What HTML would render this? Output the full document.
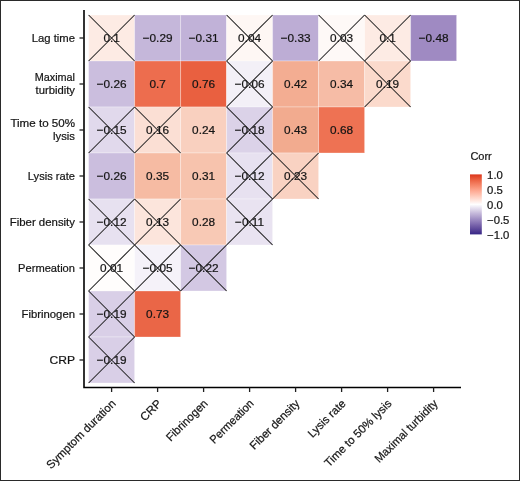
<!DOCTYPE html>
<html><head><meta charset="utf-8"><style>
html,body{margin:0;padding:0;background:#fff;}
.wrap{position:relative;width:520px;height:481px;overflow:hidden;background:#fff;}
.frame{position:absolute;left:0;top:0;width:518px;height:479px;border:1px solid #2a2a2a;}
svg{position:absolute;left:0;top:0;will-change:transform;}
text{font-family:"Liberation Sans",sans-serif;fill:#151515;stroke:#151515;stroke-width:0.22px;}
.n{font-size:11.8px;text-anchor:middle;}
.x{stroke:#1e1e1e;stroke-width:1.05;fill:none;}
.yl{font-size:11.3px;text-anchor:end;}
.xl{font-size:11.5px;text-anchor:end;}
.lt{font-size:11px;}
.lg{font-size:11.3px;}
</style></head><body><div class="wrap"><svg width="520" height="481" viewBox="0 0 520 481"><defs><linearGradient id="g" x1="0" y1="0" x2="0" y2="1"><stop offset="0.0000" stop-color="#dc3419"/><stop offset="0.0250" stop-color="#e04225"/><stop offset="0.0500" stop-color="#e44e30"/><stop offset="0.0750" stop-color="#e85a3b"/><stop offset="0.1000" stop-color="#ec6545"/><stop offset="0.1250" stop-color="#ef6f50"/><stop offset="0.1500" stop-color="#f2795b"/><stop offset="0.1750" stop-color="#f58366"/><stop offset="0.2000" stop-color="#f78d71"/><stop offset="0.2250" stop-color="#fa977c"/><stop offset="0.2500" stop-color="#fca088"/><stop offset="0.2750" stop-color="#feaa93"/><stop offset="0.3000" stop-color="#ffb39f"/><stop offset="0.3250" stop-color="#ffbdaa"/><stop offset="0.3500" stop-color="#ffc6b6"/><stop offset="0.3750" stop-color="#ffd0c2"/><stop offset="0.4000" stop-color="#ffd9ce"/><stop offset="0.4250" stop-color="#ffe3da"/><stop offset="0.4500" stop-color="#ffece6"/><stop offset="0.4750" stop-color="#fff5f3"/><stop offset="0.5000" stop-color="#ffffff"/><stop offset="0.5250" stop-color="#f5f3f9"/><stop offset="0.5500" stop-color="#ebe7f3"/><stop offset="0.5750" stop-color="#e2dbed"/><stop offset="0.6000" stop-color="#d8d0e6"/><stop offset="0.6250" stop-color="#cec4e0"/><stop offset="0.6500" stop-color="#c4b8da"/><stop offset="0.6750" stop-color="#bbadd4"/><stop offset="0.7000" stop-color="#b1a2ce"/><stop offset="0.7250" stop-color="#a797c8"/><stop offset="0.7500" stop-color="#9d8cc2"/><stop offset="0.7750" stop-color="#9481bc"/><stop offset="0.8000" stop-color="#8a76b6"/><stop offset="0.8250" stop-color="#806cb0"/><stop offset="0.8500" stop-color="#7661a9"/><stop offset="0.8750" stop-color="#6c57a3"/><stop offset="0.9000" stop-color="#624d9d"/><stop offset="0.9250" stop-color="#574397"/><stop offset="0.9500" stop-color="#4d3991"/><stop offset="0.9750" stop-color="#412f8b"/><stop offset="1.0000" stop-color="#352585"/></linearGradient></defs>
<rect x="88.60" y="15.00" width="46.0" height="46.0" fill="#fdebe4" stroke="#fff" stroke-width="1" stroke-opacity="0.3"/>
<rect x="134.60" y="15.00" width="46.0" height="46.0" fill="#c5b7da" stroke="#fff" stroke-width="1" stroke-opacity="0.3"/>
<rect x="180.60" y="15.00" width="46.0" height="46.0" fill="#c1b2d8" stroke="#fff" stroke-width="1" stroke-opacity="0.3"/>
<rect x="226.60" y="15.00" width="46.0" height="46.0" fill="#fef7f4" stroke="#fff" stroke-width="1" stroke-opacity="0.3"/>
<rect x="272.60" y="15.00" width="46.0" height="46.0" fill="#bdadd5" stroke="#fff" stroke-width="1" stroke-opacity="0.3"/>
<rect x="318.60" y="15.00" width="46.0" height="46.0" fill="#fef9f7" stroke="#fff" stroke-width="1" stroke-opacity="0.3"/>
<rect x="364.60" y="15.00" width="46.0" height="46.0" fill="#fdebe4" stroke="#fff" stroke-width="1" stroke-opacity="0.3"/>
<rect x="410.60" y="15.00" width="46.0" height="46.0" fill="#9f8ac2" stroke="#fff" stroke-width="1" stroke-opacity="0.3"/>
<rect x="88.60" y="61.00" width="46.0" height="46.0" fill="#cbbede" stroke="#fff" stroke-width="1" stroke-opacity="0.3"/>
<rect x="134.60" y="61.00" width="46.0" height="46.0" fill="#ed6d4e" stroke="#fff" stroke-width="1" stroke-opacity="0.3"/>
<rect x="180.60" y="61.00" width="46.0" height="46.0" fill="#e96040" stroke="#fff" stroke-width="1" stroke-opacity="0.3"/>
<rect x="226.60" y="61.00" width="46.0" height="46.0" fill="#f3f0f7" stroke="#fff" stroke-width="1" stroke-opacity="0.3"/>
<rect x="272.60" y="61.00" width="46.0" height="46.0" fill="#f3ad92" stroke="#fff" stroke-width="1" stroke-opacity="0.3"/>
<rect x="318.60" y="61.00" width="46.0" height="46.0" fill="#f6bca6" stroke="#fff" stroke-width="1" stroke-opacity="0.3"/>
<rect x="364.60" y="61.00" width="46.0" height="46.0" fill="#fbdacc" stroke="#fff" stroke-width="1" stroke-opacity="0.3"/>
<rect x="88.60" y="107.00" width="46.0" height="46.0" fill="#e1d9ec" stroke="#fff" stroke-width="1" stroke-opacity="0.3"/>
<rect x="134.60" y="107.00" width="46.0" height="46.0" fill="#fbdfd4" stroke="#fff" stroke-width="1" stroke-opacity="0.3"/>
<rect x="180.60" y="107.00" width="46.0" height="46.0" fill="#f9d0bf" stroke="#fff" stroke-width="1" stroke-opacity="0.3"/>
<rect x="226.60" y="107.00" width="46.0" height="46.0" fill="#dbd2e8" stroke="#fff" stroke-width="1" stroke-opacity="0.3"/>
<rect x="272.60" y="107.00" width="46.0" height="46.0" fill="#f2ab8f" stroke="#fff" stroke-width="1" stroke-opacity="0.3"/>
<rect x="318.60" y="107.00" width="46.0" height="46.0" fill="#ee7253" stroke="#fff" stroke-width="1" stroke-opacity="0.3"/>
<rect x="88.60" y="153.00" width="46.0" height="46.0" fill="#cbbede" stroke="#fff" stroke-width="1" stroke-opacity="0.3"/>
<rect x="134.60" y="153.00" width="46.0" height="46.0" fill="#f6bba3" stroke="#fff" stroke-width="1" stroke-opacity="0.3"/>
<rect x="180.60" y="153.00" width="46.0" height="46.0" fill="#f7c3ad" stroke="#fff" stroke-width="1" stroke-opacity="0.3"/>
<rect x="226.60" y="153.00" width="46.0" height="46.0" fill="#e7e1f0" stroke="#fff" stroke-width="1" stroke-opacity="0.3"/>
<rect x="272.60" y="153.00" width="46.0" height="46.0" fill="#f9d2c2" stroke="#fff" stroke-width="1" stroke-opacity="0.3"/>
<rect x="88.60" y="199.00" width="46.0" height="46.0" fill="#e7e1f0" stroke="#fff" stroke-width="1" stroke-opacity="0.3"/>
<rect x="134.60" y="199.00" width="46.0" height="46.0" fill="#fce5dc" stroke="#fff" stroke-width="1" stroke-opacity="0.3"/>
<rect x="180.60" y="199.00" width="46.0" height="46.0" fill="#f8c9b5" stroke="#fff" stroke-width="1" stroke-opacity="0.3"/>
<rect x="226.60" y="199.00" width="46.0" height="46.0" fill="#e9e3f1" stroke="#fff" stroke-width="1" stroke-opacity="0.3"/>
<rect x="88.60" y="245.00" width="46.0" height="46.0" fill="#fffdfc" stroke="#fff" stroke-width="1" stroke-opacity="0.3"/>
<rect x="134.60" y="245.00" width="46.0" height="46.0" fill="#f5f2f9" stroke="#fff" stroke-width="1" stroke-opacity="0.3"/>
<rect x="180.60" y="245.00" width="46.0" height="46.0" fill="#d3c8e3" stroke="#fff" stroke-width="1" stroke-opacity="0.3"/>
<rect x="88.60" y="291.00" width="46.0" height="46.0" fill="#d9cfe7" stroke="#fff" stroke-width="1" stroke-opacity="0.3"/>
<rect x="134.60" y="291.00" width="46.0" height="46.0" fill="#ea6647" stroke="#fff" stroke-width="1" stroke-opacity="0.3"/>
<rect x="88.60" y="337.00" width="46.0" height="46.0" fill="#d9cfe7" stroke="#fff" stroke-width="1" stroke-opacity="0.3"/>
<text x="111.60" y="42.10" class="n">0.1</text>
<text x="157.60" y="42.10" class="n">−0.29</text>
<text x="203.60" y="42.10" class="n">−0.31</text>
<text x="249.60" y="42.10" class="n">0.04</text>
<text x="295.60" y="42.10" class="n">−0.33</text>
<text x="341.60" y="42.10" class="n">0.03</text>
<text x="387.60" y="42.10" class="n">0.1</text>
<text x="433.60" y="42.10" class="n">−0.48</text>
<text x="111.60" y="88.10" class="n">−0.26</text>
<text x="157.60" y="88.10" class="n">0.7</text>
<text x="203.60" y="88.10" class="n">0.76</text>
<text x="249.60" y="88.10" class="n">−0.06</text>
<text x="295.60" y="88.10" class="n">0.42</text>
<text x="341.60" y="88.10" class="n">0.34</text>
<text x="387.60" y="88.10" class="n">0.19</text>
<text x="111.60" y="134.10" class="n">−0.15</text>
<text x="157.60" y="134.10" class="n">0.16</text>
<text x="203.60" y="134.10" class="n">0.24</text>
<text x="249.60" y="134.10" class="n">−0.18</text>
<text x="295.60" y="134.10" class="n">0.43</text>
<text x="341.60" y="134.10" class="n">0.68</text>
<text x="111.60" y="180.10" class="n">−0.26</text>
<text x="157.60" y="180.10" class="n">0.35</text>
<text x="203.60" y="180.10" class="n">0.31</text>
<text x="249.60" y="180.10" class="n">−0.12</text>
<text x="295.60" y="180.10" class="n">0.23</text>
<text x="111.60" y="226.10" class="n">−0.12</text>
<text x="157.60" y="226.10" class="n">0.13</text>
<text x="203.60" y="226.10" class="n">0.28</text>
<text x="249.60" y="226.10" class="n">−0.11</text>
<text x="111.60" y="272.10" class="n">0.01</text>
<text x="157.60" y="272.10" class="n">−0.05</text>
<text x="203.60" y="272.10" class="n">−0.22</text>
<text x="111.60" y="318.10" class="n">−0.19</text>
<text x="157.60" y="318.10" class="n">0.73</text>
<text x="111.60" y="364.10" class="n">−0.19</text>
<path d="M88.60 15.00L134.60 61.00M134.60 15.00L88.60 61.00" class="x"/>
<path d="M226.60 15.00L272.60 61.00M272.60 15.00L226.60 61.00" class="x"/>
<path d="M318.60 15.00L364.60 61.00M364.60 15.00L318.60 61.00" class="x"/>
<path d="M364.60 15.00L410.60 61.00M410.60 15.00L364.60 61.00" class="x"/>
<path d="M226.60 61.00L272.60 107.00M272.60 61.00L226.60 107.00" class="x"/>
<path d="M364.60 61.00L410.60 107.00M410.60 61.00L364.60 107.00" class="x"/>
<path d="M88.60 107.00L134.60 153.00M134.60 107.00L88.60 153.00" class="x"/>
<path d="M134.60 107.00L180.60 153.00M180.60 107.00L134.60 153.00" class="x"/>
<path d="M226.60 107.00L272.60 153.00M272.60 107.00L226.60 153.00" class="x"/>
<path d="M226.60 153.00L272.60 199.00M272.60 153.00L226.60 199.00" class="x"/>
<path d="M272.60 153.00L318.60 199.00M318.60 153.00L272.60 199.00" class="x"/>
<path d="M88.60 199.00L134.60 245.00M134.60 199.00L88.60 245.00" class="x"/>
<path d="M134.60 199.00L180.60 245.00M180.60 199.00L134.60 245.00" class="x"/>
<path d="M226.60 199.00L272.60 245.00M272.60 199.00L226.60 245.00" class="x"/>
<path d="M88.60 245.00L134.60 291.00M134.60 245.00L88.60 291.00" class="x"/>
<path d="M134.60 245.00L180.60 291.00M180.60 245.00L134.60 291.00" class="x"/>
<path d="M180.60 245.00L226.60 291.00M226.60 245.00L180.60 291.00" class="x"/>
<path d="M88.60 291.00L134.60 337.00M134.60 291.00L88.60 337.00" class="x"/>
<path d="M88.60 337.00L134.60 383.00M134.60 337.00L88.60 383.00" class="x"/>
<path d="M84.0 10V387.5H461" fill="none" stroke="#000" stroke-width="1.6"/>
<path d="M79.5 38.00H84.0" stroke="#1e1e1e" stroke-width="1.3"/>
<path d="M79.5 84.00H84.0" stroke="#1e1e1e" stroke-width="1.3"/>
<path d="M79.5 130.00H84.0" stroke="#1e1e1e" stroke-width="1.3"/>
<path d="M79.5 176.00H84.0" stroke="#1e1e1e" stroke-width="1.3"/>
<path d="M79.5 222.00H84.0" stroke="#1e1e1e" stroke-width="1.3"/>
<path d="M79.5 268.00H84.0" stroke="#1e1e1e" stroke-width="1.3"/>
<path d="M79.5 314.00H84.0" stroke="#1e1e1e" stroke-width="1.3"/>
<path d="M79.5 360.00H84.0" stroke="#1e1e1e" stroke-width="1.3"/>
<path d="M111.60 387.5V392.0" stroke="#1e1e1e" stroke-width="1.3"/>
<path d="M157.60 387.5V392.0" stroke="#1e1e1e" stroke-width="1.3"/>
<path d="M203.60 387.5V392.0" stroke="#1e1e1e" stroke-width="1.3"/>
<path d="M249.60 387.5V392.0" stroke="#1e1e1e" stroke-width="1.3"/>
<path d="M295.60 387.5V392.0" stroke="#1e1e1e" stroke-width="1.3"/>
<path d="M341.60 387.5V392.0" stroke="#1e1e1e" stroke-width="1.3"/>
<path d="M387.60 387.5V392.0" stroke="#1e1e1e" stroke-width="1.3"/>
<path d="M433.60 387.5V392.0" stroke="#1e1e1e" stroke-width="1.3"/>
<text x="75.0" y="42.00" class="yl" textLength="43.3" lengthAdjust="spacingAndGlyphs">Lag time</text>
<text x="75.0" y="80.80" class="yl" textLength="40.3" lengthAdjust="spacingAndGlyphs">Maximal</text>
<text x="75.0" y="94.20" class="yl" textLength="39.4" lengthAdjust="spacingAndGlyphs">turbidity</text>
<text x="75.0" y="126.80" class="yl" textLength="64.6" lengthAdjust="spacingAndGlyphs">Time to 50%</text>
<text x="75.0" y="140.20" class="yl" textLength="22.0" lengthAdjust="spacingAndGlyphs">lysis</text>
<text x="75.0" y="180.00" class="yl" textLength="47.2" lengthAdjust="spacingAndGlyphs">Lysis rate</text>
<text x="75.0" y="226.00" class="yl" textLength="65.3" lengthAdjust="spacingAndGlyphs">Fiber density</text>
<text x="75.0" y="272.00" class="yl" textLength="56.9" lengthAdjust="spacingAndGlyphs">Permeation</text>
<text x="75.0" y="318.00" class="yl" textLength="53.5" lengthAdjust="spacingAndGlyphs">Fibrinogen</text>
<text x="75.0" y="364.00" class="yl" textLength="25.5" lengthAdjust="spacingAndGlyphs">CRP</text>
<text transform="translate(110.70 398.60) rotate(-45)" x="0" y="8" class="xl" textLength="92.34" lengthAdjust="spacingAndGlyphs">Symptom duration</text>
<text transform="translate(156.70 398.60) rotate(-45)" x="0" y="8" class="xl" textLength="24.81" lengthAdjust="spacingAndGlyphs">CRP</text>
<text transform="translate(202.70 398.60) rotate(-45)" x="0" y="8" class="xl" textLength="53.29" lengthAdjust="spacingAndGlyphs">Fibrinogen</text>
<text transform="translate(248.70 398.60) rotate(-45)" x="0" y="8" class="xl" textLength="56.55" lengthAdjust="spacingAndGlyphs">Permeation</text>
<text transform="translate(294.70 398.60) rotate(-45)" x="0" y="8" class="xl" textLength="65.09" lengthAdjust="spacingAndGlyphs">Fiber density</text>
<text transform="translate(340.70 398.60) rotate(-45)" x="0" y="8" class="xl" textLength="48.00" lengthAdjust="spacingAndGlyphs">Lysis rate</text>
<text transform="translate(386.70 398.60) rotate(-45)" x="0" y="8" class="xl" textLength="89.50" lengthAdjust="spacingAndGlyphs">Time to 50% lysis</text>
<text transform="translate(432.70 398.60) rotate(-45)" x="0" y="8" class="xl" textLength="83.60" lengthAdjust="spacingAndGlyphs">Maximal turbidity</text>
<text x="470.4" y="160.1" class="lt">Corr</text>
<rect x="470.0" y="174.4" width="11.8" height="60.0" fill="url(#g)"/>
<text x="487.1" y="178.90" class="lg">1.0</text>
<text x="487.1" y="193.90" class="lg">0.5</text>
<text x="487.1" y="208.90" class="lg">0.0</text>
<text x="487.1" y="223.90" class="lg">−0.5</text>
<text x="487.1" y="238.90" class="lg">−1.0</text>
</svg><div class="frame"></div></div></body></html>
